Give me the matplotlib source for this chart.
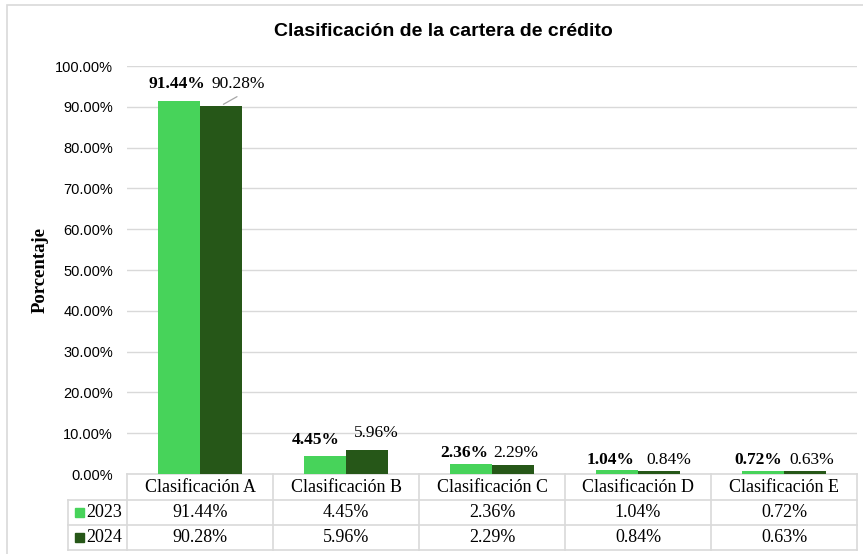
import matplotlib.pyplot as plt
import numpy as np
from matplotlib.patches import Rectangle

# Datos
categorias = ['Clasificación A', 'Clasificación B', 'Clasificación C',
              'Clasificación D', 'Clasificación E']
anios = ['2023', '2024']
valores_2023 = [91.44, 4.45, 2.36, 1.04, 0.72]
valores_2024 = [90.28, 5.96, 2.29, 0.84, 0.63]

# Desplazamiento manual de las etiquetas (en pixeles, como en el original)
offs_2023 = [(-2, 17), (-9, 16), (-7, 11), (-6, 10), (-5, 11)]
offs_2024 = [(17, 22), (9, 17), (3, 12), (10, 11), (7, 11)]

verde_claro = '#47d35a'
verde_oscuro = '#265718'
gris = '#d9d9d9'
serif = 'Liberation Serif'
sans = 'Liberation Sans'

W, H = 863, 554
fig = plt.figure(figsize=(W / 100, H / 100), dpi=100)
ax = fig.add_axes([127 / W, 1 - 474 / H, (857 - 127) / W, (474 - 66) / H])

x = np.arange(len(categorias))
ancho = 42 / 146
ax.bar(x - ancho / 2, valores_2023, ancho, color=verde_claro, zorder=3)
ax.bar(x + ancho / 2, valores_2024, ancho, color=verde_oscuro, zorder=3)

ax.set_xlim(-0.5, len(categorias) - 0.5)
ax.set_ylim(0, 100)
ax.set_yticks(np.arange(0, 101, 10))
ax.set_yticklabels([f'{v:.2f}%' for v in np.arange(0, 101, 10)],
                   fontsize=10.5, family=sans)
ax.set_xticks([])
ax.tick_params(axis='y', length=0, pad=10)
ax.yaxis.grid(True, color=gris, lw=1, zorder=0)
for s in ax.spines.values():
    s.set_visible(False)

ax.set_ylabel('Porcentaje', family=serif, fontweight='bold', fontsize=13.5)
ax.yaxis.set_label_coords((49 - 127) / 730, 0.5)

# Etiquetas de datos
p = 0.72  # pixeles -> puntos
for i in range(len(categorias)):
    ax.annotate(f'{valores_2023[i]:.2f}%', (x[i] - ancho / 2, valores_2023[i]),
                xytext=(offs_2023[i][0] * p, offs_2023[i][1] * p),
                textcoords='offset points', ha='center', va='center',
                family=serif, fontweight='bold', fontsize=12.5)
    ax.annotate(f'{valores_2024[i]:.2f}%', (x[i] + ancho / 2, valores_2024[i]),
                xytext=(offs_2024[i][0] * p, offs_2024[i][1] * p),
                textcoords='offset points', ha='center', va='center',
                family=serif, fontsize=12.5)

# linea guia de la etiqueta 90.28%
ax.annotate('', (x[0] + ancho / 2, valores_2024[0]), xytext=(16 * p, 9 * p),
            textcoords='offset points',
            arrowprops=dict(arrowstyle='-', color='#a6a6a6', lw=0.9,
                            shrinkA=0, shrinkB=2))

# Tabla de datos bajo el eje
trans = ax.get_xaxis_transform()
px = 408.0


def fy(py):
    return -(py - 474) / px


x_izq = -0.5 + (68 - 127) / 146
filas_y = [474, 500, 525, 550]
for k in range(len(categorias) + 1):
    ax.plot([k - 0.5, k - 0.5], [fy(474), fy(550)], color=gris, lw=1.2,
            transform=trans, clip_on=False)
ax.plot([x_izq, x_izq], [fy(500), fy(550)], color=gris, lw=1.2,
        transform=trans, clip_on=False)
ax.plot([-0.5, len(categorias) - 0.5], [fy(474), fy(474)], color=gris, lw=1.2,
        transform=trans, clip_on=False)
for py in filas_y[1:]:
    ax.plot([x_izq, len(categorias) - 0.5], [fy(py), fy(py)], color=gris, lw=1.2,
            transform=trans, clip_on=False)

for i, c in enumerate(categorias):
    ax.text(x[i], fy(487), c, transform=trans, ha='center', va='center',
            family=serif, fontsize=13)
    ax.text(x[i], fy(512.5), f'{valores_2023[i]:.2f}%', transform=trans,
            ha='center', va='center', family=serif, fontsize=13)
    ax.text(x[i], fy(537.5), f'{valores_2024[i]:.2f}%', transform=trans,
            ha='center', va='center', family=serif, fontsize=13)

for j, (anio, col) in enumerate(zip(anios, [verde_claro, verde_oscuro])):
    yc = 512.5 + 25 * j
    fig.patches.append(Rectangle((75 / W, 1 - (yc + 4.5) / H), 9 / W, 9 / H,
                                 transform=fig.transFigure, color=col))
    fig.text(86 / W, 1 - yc / H, anio, ha='left', va='center',
             family=serif, fontsize=13)

# Titulo
fig.text(443 / W, 1 - 32 / H, 'Clasificación de la cartera de crédito',
         ha='center', va='center', family=sans, fontweight='bold', fontsize=14)

# Borde del grafico
fig.patches.append(Rectangle((7 / W, -0.01), 1.0, 1 - 5 / H + 0.01,
                             transform=fig.transFigure, fill=False,
                             edgecolor=gris, lw=1.2))

fig.savefig('out.png', dpi=100)
